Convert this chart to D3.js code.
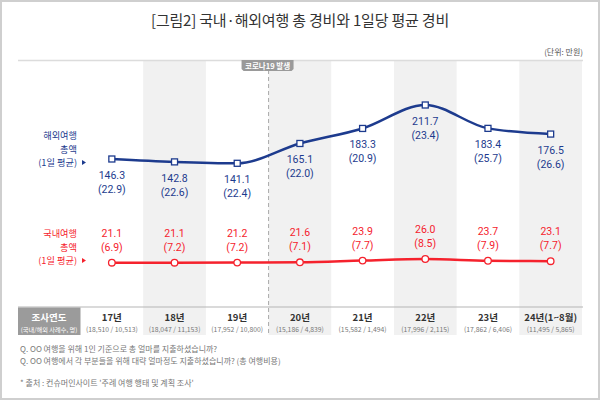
<!DOCTYPE html>
<html>
<head>
<meta charset="utf-8">
<script src="https://cdn.jsdelivr.net/npm/d3@7"></script>
<style>
  body { margin: 0; background: #fff; }
  svg { display: block; font-family: "Noto Sans CJK KR", "Noto Sans", sans-serif; }
</style>
</head>
<body>
<svg id="canvas"></svg>
<script>
const years = ['17년', '18년', '19년', '20년', '21년', '22년', '23년', '24년(1~8월)']
const samples = ['(18,510 / 10,513)', '(18,047 / 11,153)', '(17,952 / 10,800)', '(15,186 / 4,839)',
                 '(15,582 / 1,494)', '(17,996 / 2,115)', '(17,862 / 6,406)', '(11,495 / 5,865)']
const overseasTotal = [146.3, 142.8, 141.1, 165.1, 183.3, 211.7, 183.4, 176.5]
const overseasDaily = [22.9, 22.6, 22.4, 22.0, 20.9, 23.4, 25.7, 26.6]
const domesticTotal = [21.1, 21.1, 21.2, 21.6, 23.9, 26.0, 23.7, 23.1]
const domesticDaily = [6.9, 7.2, 7.2, 7.1, 7.7, 8.5, 7.9, 7.7]

const width = 600
const height = 400
const blue = '#1d3b8e'
const red = '#f5222d'
const numFont = 'Roboto, "Noto Sans", sans-serif'

let canvas = d3.select('#canvas').attr('width', width).attr('height', height)

// frame
canvas.append('rect').attr('x', 1).attr('y', 1).attr('width', width - 2).attr('height', height - 2)
    .attr('fill', '#fff').attr('stroke', '#cfcfcf').attr('stroke-width', 2)

canvas.append('text').attr('x', 300).attr('y', 26).attr('text-anchor', 'middle')
    .attr('font-size', 15).attr('letter-spacing', -0.2).attr('fill', '#333')
    .text('[그림2] 국내·해외여행 총 경비와 1일당 평균 경비')

canvas.append('text').attr('x', 583).attr('y', 55).attr('text-anchor', 'end')
    .attr('font-size', 8).attr('fill', '#555').text('(단위: 만원)')

let xBand = d3.scaleBand().domain(years).range([80.5, 582]).padding(0)
let xc = (d) => xBand(d) + xBand.bandwidth() / 2

let yBlue = d3.scaleLinear().domain([146.3, 211.7]).range([159, 105])
let yRed = d3.scaleLinear().domain([21.1, 26.0]).range([262.7, 259])

// striped columns
canvas.selectAll('rect.stripe')
    .data(years.filter((d, i) => i % 2 === 1))
    .enter()
    .append('rect')
    .attr('class', 'stripe')
    .attr('x', d => xBand(d))
    .attr('y', 61)
    .attr('width', xBand.bandwidth())
    .attr('height', 335 - 61)
    .attr('fill', '#f1f1f1')

canvas.append('line').attr('x1', 18).attr('x2', 583).attr('y1', 60.5).attr('y2', 60.5)
    .attr('stroke', '#dcdcdc').attr('stroke-width', 1.5)

// covid marker
let covidX = xBand('20년')
canvas.append('line').attr('x1', covidX).attr('x2', covidX).attr('y1', 70).attr('y2', 335)
    .attr('stroke', '#aaa').attr('stroke-dasharray', '4,3')
canvas.append('path')
    .attr('d', `M${covidX - 27},60 H${covidX + 25} V69 L${covidX + 23},71 H${covidX - 25} L${covidX - 27},69 Z`)
    .attr('fill', '#9a9a9a')
canvas.append('text').attr('x', covidX - 1).attr('y', 68.5).attr('text-anchor', 'middle')
    .attr('font-size', 7.5).attr('font-weight', 'bold').attr('fill', '#fff').text('코로나19 발생')

// series labels on the left
let sideLabel = (lines, y0, color) => {
    lines.forEach((t, i) => {
        canvas.append('text').attr('x', 77).attr('y', y0 + i * 13.5).attr('text-anchor', 'end')
            .attr('font-size', 9.2).attr('fill', color).text(t)
    })
    canvas.append('path')
        .attr('d', `M82,${y0 + 27 - 6} l4,2.5 l-4,2.5 Z`)
        .attr('fill', color)
}
sideLabel(['해외여행', '총액', '(1일 평균)'], 139, blue)
sideLabel(['국내여행', '총액', '(1일 평균)'], 237, red)

// overseas line
let blueLine = d3.line().x((d, i) => xc(years[i])).y(d => yBlue(d)).curve(d3.curveMonotoneX)
canvas.append('path').datum(overseasTotal).attr('d', blueLine)
    .attr('fill', 'none').attr('stroke', blue).attr('stroke-width', 2.5)

canvas.selectAll('rect.bm')
    .data(overseasTotal)
    .enter()
    .append('rect')
    .attr('class', 'bm')
    .attr('x', (d, i) => xc(years[i]) - 3)
    .attr('y', d => yBlue(d) - 3)
    .attr('width', 6).attr('height', 6)
    .attr('fill', '#fff').attr('stroke', blue).attr('stroke-width', 1.3)

canvas.selectAll('text.bv')
    .data(overseasTotal)
    .enter()
    .append('text')
    .attr('class', 'bv')
    .attr('x', (d, i) => xc(years[i]))
    .attr('y', d => yBlue(d) + 20)
    .attr('text-anchor', 'middle').attr('font-family', numFont).attr('font-size', 10.5).attr('fill', blue)
    .text(d => d.toFixed(1))

canvas.selectAll('text.bd')
    .data(overseasDaily)
    .enter()
    .append('text')
    .attr('class', 'bd')
    .attr('x', (d, i) => xc(years[i]))
    .attr('y', (d, i) => yBlue(overseasTotal[i]) + 34)
    .attr('text-anchor', 'middle').attr('font-family', numFont).attr('font-size', 10.5).attr('fill', blue)
    .text(d => '(' + d.toFixed(1) + ')')

// domestic line
let redLine = d3.line().x((d, i) => xc(years[i])).y(d => yRed(d)).curve(d3.curveMonotoneX)
canvas.append('path').datum(domesticTotal).attr('d', redLine)
    .attr('fill', 'none').attr('stroke', red).attr('stroke-width', 2.5)

canvas.selectAll('circle.rm')
    .data(domesticTotal)
    .enter()
    .append('circle')
    .attr('class', 'rm')
    .attr('cx', (d, i) => xc(years[i]))
    .attr('cy', d => yRed(d))
    .attr('r', 3.3)
    .attr('fill', '#fff').attr('stroke', red).attr('stroke-width', 1.3)

canvas.selectAll('text.rv')
    .data(domesticTotal)
    .enter()
    .append('text')
    .attr('class', 'rv')
    .attr('x', (d, i) => xc(years[i]))
    .attr('y', d => yRed(d) - 26)
    .attr('text-anchor', 'middle').attr('font-family', numFont).attr('font-size', 10.5).attr('fill', red)
    .text(d => d.toFixed(1))

canvas.selectAll('text.rd')
    .data(domesticDaily)
    .enter()
    .append('text')
    .attr('class', 'rd')
    .attr('x', (d, i) => xc(years[i]))
    .attr('y', (d, i) => yRed(domesticTotal[i]) - 12)
    .attr('text-anchor', 'middle').attr('font-family', numFont).attr('font-size', 10.5).attr('fill', red)
    .text(d => '(' + d.toFixed(1) + ')')

// year table
canvas.append('line').attr('x1', 18).attr('x2', 583).attr('y1', 307).attr('y2', 307)
    .attr('stroke', '#b5b5b5').attr('stroke-width', 1)
canvas.append('rect').attr('x', 18).attr('y', 307.5).attr('width', 62.5).attr('height', 27.5)
    .attr('fill', '#9b9b9b')
canvas.append('text').attr('x', 49).attr('y', 320.5).attr('text-anchor', 'middle')
    .attr('font-size', 9.5).attr('font-weight', 'bold').attr('fill', '#fff').text('조사연도')
canvas.append('text').attr('x', 49).attr('y', 332).attr('text-anchor', 'middle')
    .attr('font-size', 6.2).attr('fill', '#fff').text('(국내/해외 사례수, 명)')

canvas.selectAll('text.yr')
    .data(years)
    .enter()
    .append('text')
    .attr('class', 'yr')
    .attr('x', d => xc(d))
    .attr('y', 320.5)
    .attr('text-anchor', 'middle').attr('font-size', 9.5).attr('font-weight', 'bold').attr('fill', '#333')
    .text(d => d)

canvas.selectAll('text.smp')
    .data(samples)
    .enter()
    .append('text')
    .attr('class', 'smp')
    .attr('x', (d, i) => xc(years[i]))
    .attr('y', 332)
    .attr('text-anchor', 'middle').attr('font-size', 6.8).attr('fill', '#777')
    .text(d => d)

// notes
const notes = ['Q. OO 여행을 위해 1인 기준으로 총 얼마를 지출하셨습니까?',
               'Q. OO 여행에서 각 부분들을 위해 대략 얼마정도 지출하셨습니까? (총 여행비용)']
notes.forEach((t, i) => {
    canvas.append('text').attr('x', 20).attr('y', 351.5 + i * 12)
        .attr('font-size', 8).attr('fill', '#777').text(t)
})
canvas.append('text').attr('x', 20).attr('y', 386)
    .attr('font-size', 8).attr('fill', '#777').text("* 출처 : 컨슈머인사이트 '주례 여행 행태 및 계획 조사'")
</script>
</body>
</html>
